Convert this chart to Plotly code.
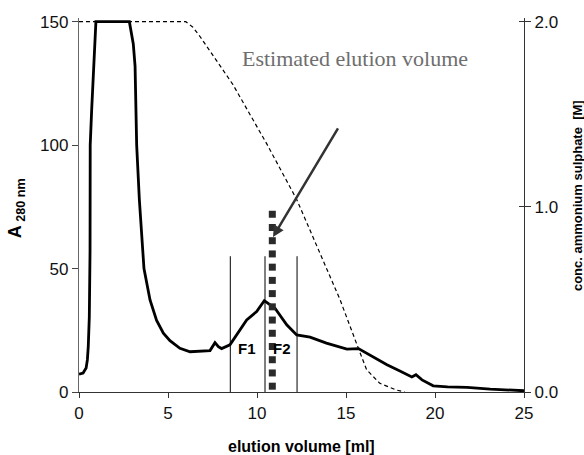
import numpy as np
import plotly.graph_objects as go

# A280 chromatogram
vol = [0, 0.23, 0.4, 0.47, 0.52, 0.58, 0.62, 0.63, 0.71, 0.95, 2.83, 3.05, 3.15, 3.24, 3.39,
       3.65, 3.99, 4.36, 4.74, 5.11, 5.67, 6.24, 7.36, 7.51, 7.64, 7.83, 8.01, 8.48, 9.04,
       9.42, 9.98, 10.41, 11.01, 11.67, 12.23, 12.98, 13.9, 15.05, 15.7, 16.5, 17.3, 18.0,
       18.7, 18.93, 19.27, 19.9, 20.7, 21.8, 23.1, 25.0]
a280 = [7.2, 7.7, 9.7, 13, 18.4, 30.5, 57, 100, 114, 150, 150, 141, 132, 100, 78,
        50, 37.3, 29, 23.8, 20.8, 17.7, 16.3, 16.8, 18.4, 20, 18.4, 17.6, 19.1, 25.1,
        29.2, 32.6, 37, 33.9, 27.2, 23.1, 22.2, 19.8, 17.4, 17.6, 14.2, 11, 8.6,
        6.1, 7, 4.9, 2.5, 2.1, 1.9, 1.2, 0.5]

# ammonium sulphate gradient
grad_vol = [0, 6.0, 6.4, 6.8, 8.65, 10.55, 12.23, 13.73, 14.66, 15.6, 16.16, 16.9, 17.85, 18.3]
grad_conc = [2.0, 2.0, 1.97, 1.92, 1.66, 1.34, 1.04, 0.71, 0.50, 0.26, 0.12, 0.047, 0.01, 0.0]

# fraction boundaries
frac_x = [8.5, 10.45, 12.25]
frac_top = 55
frac_labels = ["F1", "F2"]
frac_label_x = [9.44, 11.38]
frac_label_y = 17.8

# estimated elution volume marker
est_x = 10.86
est_y0, est_y1 = -3.0, 72.0

fig = go.Figure()

fig.add_trace(go.Scatter(x=grad_vol, y=grad_conc, yaxis="y2", mode="lines",
                         line=dict(color="black", width=1.2, dash="4px,3px"),
                         hoverinfo="skip", showlegend=False))
# helper (empty) trace so that the inner tick marks of the right axis are drawn
fig.add_trace(go.Scatter(x=[None], y=[None], yaxis="y3", mode="lines",
                         showlegend=False, hoverinfo="skip"))

for fx in frac_x:
    fig.add_trace(go.Scatter(x=[fx, fx], y=[0, frac_top], mode="lines",
                             line=dict(color="black", width=1), showlegend=False, hoverinfo="skip"))

fig.add_trace(go.Scatter(x=vol, y=a280, mode="lines",
                         line=dict(color="black", width=2.8), showlegend=False))

est_ys = np.linspace(est_y0, est_y1, 15)
fig.add_trace(go.Scatter(x=[est_x] * len(est_ys), y=est_ys, mode="markers",
                         marker=dict(symbol="square", size=7, color="#2a2a2a"),
                         cliponaxis=False, showlegend=False, hoverinfo="skip"))

font = "Liberation Sans, Arial, sans-serif"

ann = []
for lab, lx in zip(frac_labels, frac_label_x):
    ann.append(dict(x=lx, y=frac_label_y, xref="x", yref="y", text="<b>%s</b>" % lab,
                    showarrow=False, font=dict(family=font, size=15, color="black")))
ann.append(dict(x=10.9, y=62.8, xref="x", yref="y", ax=14.6, ay=107.4, axref="x", ayref="y",
                text="", showarrow=True, arrowhead=2, arrowsize=0.9, arrowwidth=2.5,
                arrowcolor="#333"))
ann.append(dict(x=15.5, y=135, xref="x", yref="y", text="Estimated elution volume",
                showarrow=False, font=dict(family="Liberation Serif, Times New Roman, serif",
                                           size=22, color="#6e6e6e")))
ann.append(dict(x=-0.139, y=0.492, xref="paper", yref="paper", textangle=-90,
                xanchor="center", yanchor="middle",
                text="<b>A</b><sub><b> 280 nm</b></sub>", showarrow=False,
                font=dict(family=font, size=18, color="black")))
ann.append(dict(x=1.12, y=0.525, xref="paper", yref="paper", textangle=-90,
                xanchor="center", yanchor="middle",
                text="<b>conc. ammonium sulphate  [M]</b>", showarrow=False,
                font=dict(family=font, size=13, color="black")))
ann.append(dict(x=0.5, y=-0.145, xref="paper", yref="paper", xanchor="center", yanchor="middle",
                text="<b>elution volume [ml]</b>", showarrow=False,
                font=dict(family=font, size=16, color="black")))

fig.update_layout(
    width=584, height=455,
    margin=dict(l=79, r=60, t=18, b=63),
    paper_bgcolor="white", plot_bgcolor="white",
    font=dict(family=font, size=17, color="#111"),
    showlegend=False,
    hovermode=False,
    annotations=ann,
    xaxis=dict(range=[0, 25], tickvals=[0, 5, 10, 15, 20, 25], showgrid=False, zeroline=False,
               showline=True, linecolor="#333", linewidth=1.2, ticks="outside", ticklen=5,
               tickcolor="#333", tickfont=dict(size=17), automargin=False),
    yaxis=dict(range=[0, 151.5], tickvals=[0, 50, 100, 150], showgrid=False, zeroline=False,
               showline=True, linecolor="#666", linewidth=1.2, ticks="outside", ticklen=6,
               tickcolor="#444", tickfont=dict(size=17), automargin=False),
    yaxis2=dict(range=[0, 2.02], tickvals=[0, 1, 2], ticktext=["0.0", "1.0", "2.0"],
                overlaying="y", side="right", showgrid=False, zeroline=False,
                showline=True, linecolor="#333", linewidth=1.2, ticks="outside", ticklen=6,
                tickcolor="#333", tickfont=dict(size=17), automargin=False),
    yaxis3=dict(range=[0, 2.02], tickvals=[0, 1, 2], overlaying="y", side="right",
                showgrid=False, zeroline=False, showline=False, showticklabels=False,
                ticks="inside", ticklen=5, tickcolor="#333", automargin=False),
)

fig.write_html("out.html", config={"displayModeBar": False, "staticPlot": True},
               post_script="document.body.style.margin='0';document.body.style.overflow='hidden';")
